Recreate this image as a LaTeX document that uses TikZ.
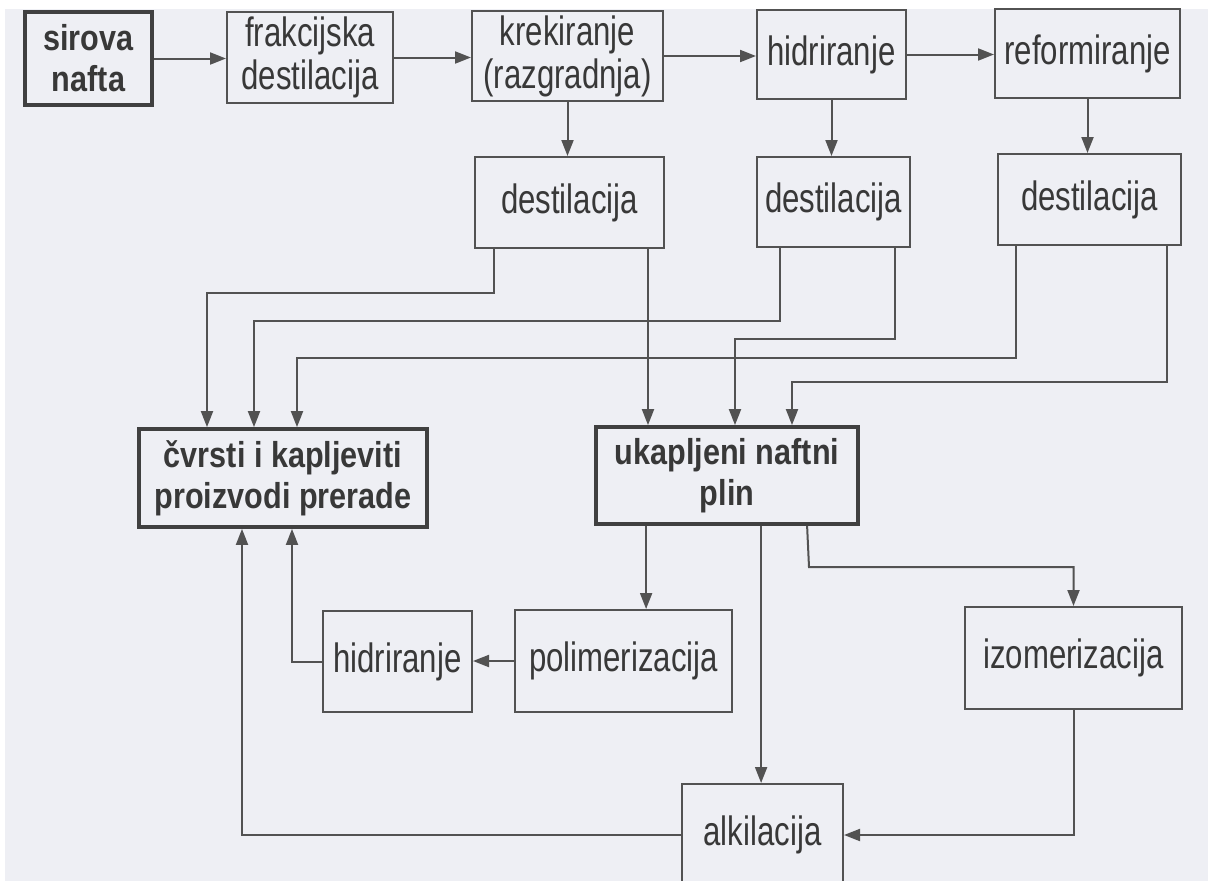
\documentclass[tikz,border=0pt]{standalone}
\usepackage{fontspec}
\setmainfont{Liberation Sans}[FakeStretch=0.76]
\newfontfamily\bfam{Liberation Sans}[FakeStretch=0.85]
\usetikzlibrary{arrows.meta}
\definecolor{bgc}{HTML}{EEEFF4}
\definecolor{linec}{HTML}{525252}
\definecolor{thickc}{HTML}{404040}
\definecolor{txtc}{HTML}{383838}
\begin{document}
\begin{tikzpicture}[x=1pt,y=-1pt,
  box/.style={draw=linec, line width=2pt, rectangle, inner sep=0pt, align=center,
    text=txtc, font=\fontsize{41}{43}\selectfont},
  mainbox/.style={box, draw=thickc, line width=3.8pt, font={\bfam\bfseries\fontsize{36}{41}\selectfont}},
  arr/.style={draw=linec, line width=2pt, -{Triangle[length=16pt,width=12pt]}}]
\useasboundingbox (0,0) rectangle (1208,881);
\clip (0,0) rectangle (1208,881);
\fill[white] (0,0) rectangle (1208,881);
\fill[bgc] (5,9) rectangle (1208,881);

% top row
\node[mainbox, minimum width=127pt, minimum height=93pt] (sir) at (88.5,58.5) {sirova\\nafta};
\node[box, minimum width=166pt, minimum height=91pt] (frak) at (310,57.5) {frakcijska\\destilacija};
\node[box, minimum width=191pt, minimum height=90pt] (krek) at (567.5,56) {krekiranje\\(razgradnja)};
\node[box, minimum width=149pt, minimum height=89pt] (hidA) at (831.5,54.5) {hidriranje};
\node[box, minimum width=185pt, minimum height=89pt] (ref) at (1087.5,53.5) {reformiranje};
% second row
\node[box, minimum width=189pt, minimum height=91pt] (d1) at (569.5,202.5) {destilacija};
\node[box, minimum width=153pt, minimum height=90pt] (d2) at (833.5,202) {destilacija};
\node[box, minimum width=183pt, minimum height=91pt] (d3) at (1089.5,199.5) {destilacija};
% products
\node[mainbox, minimum width=288pt, minimum height=98pt] (cvr) at (283,478) {čvrsti i kapljeviti\\proizvodi prerade};
\node[mainbox, minimum width=262pt, minimum height=97pt] (ukp) at (727,475.5) {ukapljeni naftni\\plin};
% bottom
\node[box, minimum width=149pt, minimum height=101pt] (hidB) at (397.5,661.5) {hidriranje};
\node[box, minimum width=217pt, minimum height=102pt] (pol) at (623.5,661) {polimerizacija};
\node[box, minimum width=217pt, minimum height=102pt] (izo) at (1073.5,658) {izomerizacija};
\node[box, minimum width=161pt, minimum height=102pt] (alk) at (762.5,835) {alkilacija};

% top row arrows
\draw[arr] (sir.east) -- (sir.east -| frak.west);
\draw[arr] (frak.east) -- (frak.east -| krek.west);
\draw[arr] (krek.east) -- (krek.east -| hidA.west);
\draw[arr] (hidA.east) -- (hidA.east -| ref.west);
\draw[arr] (krek.south) -- (krek.south |- d1.north);
\draw[arr] (hidA.south) -- (hidA.south |- d2.north);
\draw[arr] (ref.south) -- (ref.south |- d3.north);

% legs of destilacija boxes
\coordinate (d1l) at ([xshift=20pt]d1.south west);
\coordinate (d1r) at ([xshift=-17pt]d1.south east);
\coordinate (d2l) at ([xshift=24pt]d2.south west);
\coordinate (d2r) at ([xshift=-16pt]d2.south east);
\coordinate (d3l) at ([xshift=19pt]d3.south west);
\coordinate (d3r) at ([xshift=-15pt]d3.south east);
\coordinate (k1) at (207,293);
\coordinate (k2) at (254,321);
\coordinate (k3) at (735,339);
\coordinate (k4) at (297,358);
\coordinate (k5) at (792,382);
\draw[arr] (d1l) |- (k1) -- (k1 |- cvr.north);
\draw[arr] (d1r) -- (d1r |- ukp.north);
\draw[arr] (d2l) |- (k2) -- (k2 |- cvr.north);
\draw[arr] (d2r) |- (k3) -- (k3 |- ukp.north);
\draw[arr] (d3l) |- (k4) -- (k4 |- cvr.north);
\draw[arr] (d3r) |- (k5) -- (k5 |- ukp.north);

% from ukapljeni naftni plin
\coordinate (u1) at ([xshift=52pt]ukp.south west);
\coordinate (u2) at ([xshift=167pt]ukp.south west);
\coordinate (u3) at ([xshift=213pt]ukp.south west);
\coordinate (k6) at (809,567);
\draw[arr] (u1) -- (u1 |- pol.north);
\draw[arr] (u2) -- (u2 |- alk.north);
\draw[arr] (u3) -- (k6) -| (izo.north);

% bottom connections
\coordinate (k7) at (292,0);
\coordinate (k8) at (242,0);
\draw[arr] (pol.west) -- (pol.west -| hidB.east);
\draw[arr] (hidB.west) -| (k7 |- cvr.south);
\draw[arr] (alk.west) -| (k8 |- cvr.south);
\draw[arr] (izo.south) |- (alk.east);
\end{tikzpicture}
\end{document}
